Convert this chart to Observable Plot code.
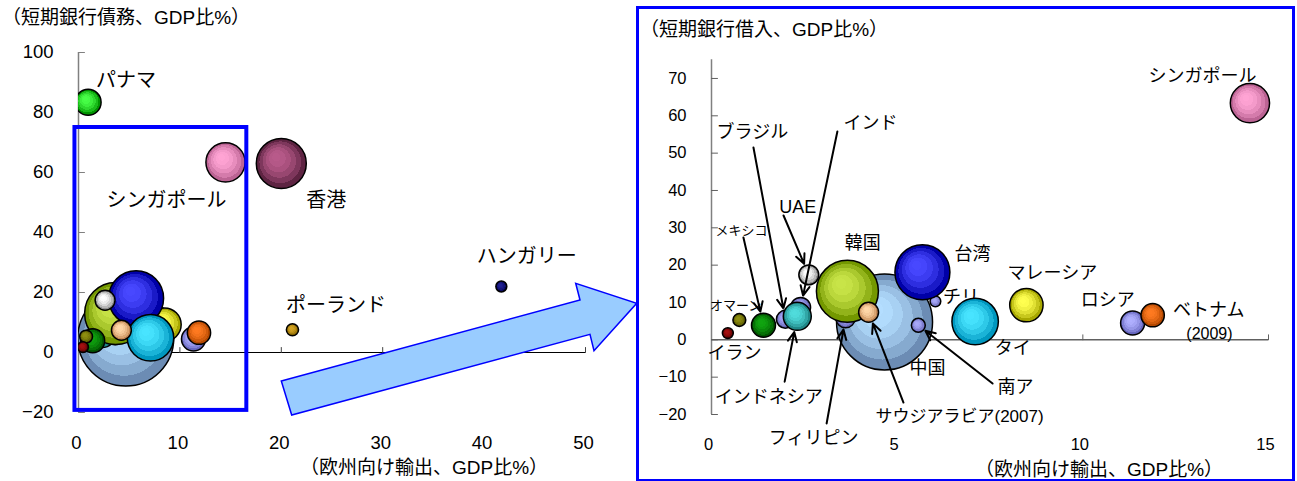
<!DOCTYPE html>
<html><head><meta charset="utf-8">
<script src="https://cdn.jsdelivr.net/npm/d3@7"></script>
<script src="https://cdn.jsdelivr.net/npm/@observablehq/plot@0.6"></script>
<style>
body{margin:0;background:#fff;width:1297px;height:481px;overflow:hidden;position:relative;font-family:'Liberation Sans','Noto Sans CJK JP',sans-serif;}
.abs{position:absolute;}
.t{position:absolute;font-size:19px;line-height:1;white-space:nowrap;color:#000;}
</style></head><body>
<svg width="0" height="0" style="position:absolute"><defs id="grads"></defs></svg>
<div id="left" class="abs" style="left:0;top:0"></div>
<div id="right" class="abs" style="left:636px;top:0"></div>
<div class="abs" style="left:636px;top:6px;width:659px;height:475px;box-sizing:border-box;border:3px solid #0000ff;border-bottom-width:2px"></div>
<div class="t" style="left:2px;top:8px">（短期銀行債務、GDP比%）</div>
<div class="t" style="left:640px;top:20px">（短期銀行借入、GDP比%）</div>
<div class="t" style="left:424px;top:458px;transform:translateX(-50%)">（欧州向け輸出、GDP比%）</div>
<div class="t" style="left:1099px;top:460px;transform:translateX(-50%)">（欧州向け輸出、GDP比%）</div>
<svg id="overlay" class="abs" style="left:0;top:0;pointer-events:none" width="1297" height="481"></svg>
<script>
// ---- data ----
const countries = ["中国","フィリピン","インド","ブラジル","インドネシア","マレーシア","韓国","チリ","台湾","UAE","南ア","タイ","サウジアラビア","ロシア","ベトナム","メキシコ","オマーン","イラン","シンガポール","香港","パナマ","ポーランド","ハンガリー"];
const exportsToEurope = [4.66,3.61,2.40,1.99,2.31,8.48,3.66,6.03,5.68,2.62,5.57,7.10,4.23,11.34,11.88,1.40,0.75,0.44,14.5,20.0,0.95,21.1,41.7];
const shortTermDebt   = [4.8,5.8,8.7,5.5,6.3,9.3,13.0,10.3,18.1,17.4,3.9,4.9,7.4,4.5,6.6,3.9,5.3,1.8,63.4,63.0,83.4,7.6,22.0];
const bubbleSize      = [100,4.0,4.3,3.5,8.5,12.1,41.7,1.25,32.8,4.3,2.1,23.4,4.3,6.25,5.9,6.25,1.8,1.3,16.7,27.1,7.3,1.6,1.3];

const leftXTicks = [0,10,20,30,40,50];
const leftYTicks = [-20,0,20,40,60,80,100];
const rightXTicks = [0,5,10,15];
const rightYTicks = [-20,-10,0,10,20,30,40,50,60,70];
const leftXDomain = [0,50], leftYDomain = [-20,100];
const rightXDomain = [0,15], rightYDomain = [-20,75];

// ---- styles (bubble gradient colours: centre / edge) ----
const centerColors = ["#b4deff","#a8a8f8","#a8a8f8","#a8a8f8","#50dcdc","#ffff50","#c8e448","#a8a8f8","#4848ff","#ffffff","#a8a8f8","#48e4ff","#ffd8a8","#b0b0ff","#ff7a20","#10a410","#8e8e10","#a41010","#ffa4d4","#b85a8a","#48ff48","#d4a422","#202094"];
const edgeColors   = ["#6c8cb4","#6868b8","#6868b8","#6868b8","#208888","#a8a800","#749800","#6868b8","#0000a8","#909090","#6868b8","#0098c0","#c48854","#6868c0","#b44800","#005400","#545400","#540000","#bc6494","#5e2442","#009400","#886600","#00004c"];

// ---- annotation layout ----
const leftLabelText = ["パナマ","シンガポール","香港","ポーランド","ハンガリー"];
const leftLabelX = [4.68,8.67,24.43,25.4,44.2];
const leftLabelY = [90.7,50.7,50.7,15.7,32.0];

const rightLabelText = ["シンガポール","ブラジル","インド","UAE","メキシコ","韓国","台湾","オマーン","イラン","インドネシア","フィリピン","中国","サウジアラビア(2007)","南ア","タイ","マレーシア","ロシア","ベトナム","(2009)"];
const rightLabelX = [13.22,1.10,4.28,2.32,0.81,4.07,7.03,0.65,0.62,1.54,2.75,5.82,6.68,8.19,8.11,9.18,10.67,13.39,13.41];
const rightLabelY = [70.7,55.5,57.9,35.4,29.3,26.0,22.8,9.2,-3.7,-15.5,-26.4,-7.7,-20.5,-12.7,-2.3,17.8,10.5,7.8,1.7];
const rightLabelSize = [18,18,18,18,13,18,18,13,18,18,18,18,17,18,18,18,18,18,16];

const arrowTarget = ["ブラジル","インド","UAE","メキシコ","インドネシア","フィリピン","サウジアラビア","南ア"];
const arrowTailX = [1.13,3.39,1.94,0.86,1.97,3.10,5.17,7.57];
const arrowTailY = [51.5,55.8,33.3,27.4,-11.2,-22.4,-16.8,-11.7];

const zoomBox = {x1:-0.35, x2:16.6, y1:-19.3, y2:75};
const arrowShape = [[281.3,381],[580,300],[575.7,283.3],[636.7,303.3],[594,350.7],[590,334.3],[291.7,415]];

// ---- build ----
const data = countries.map((name,i)=>({name, x:exportsToEurope[i], y:shortTermDebt[i], size:bubbleSize[i], id:"grad"+i}));
const byName = new Map(data.map(d=>[d.name,d]));

const defs = d3.select("#grads");
data.forEach((d,i)=>{
  const g = defs.append("radialGradient").attr("id", d.id)
    .attr("cx","50%").attr("cy","50%").attr("r","50%").attr("fx","38%").attr("fy","35%");
  const N = 6, interp = d3.interpolateRgb(centerColors[i], edgeColors[i]);
  for (let k=0;k<N;k++){
    const c = interp(Math.pow(k/(N-1), 2));
    g.append("stop").attr("offset", k/N).attr("stop-color", c);
    g.append("stop").attr("offset", (k+1)/N).attr("stop-color", c);
  }
});

const RMAX = 48;
const rScale = {type:"sqrt", domain:[0,100], range:[0,RMAX]};
const tickShape = {draw(ctx, l){ ctx.moveTo(0,0); ctx.lineTo(0,-l); }};
const font = "'Liberation Sans','Noto Sans CJK JP',sans-serif";

const leftLabels = leftLabelText.map((t,i)=>({t, x:leftLabelX[i], y:leftLabelY[i]}));
const left = Plot.plot({
  width:636, height:481,
  marginLeft:78, marginRight:51, marginTop:52, marginBottom:69,
  x:{domain:leftXDomain, label:null},
  y:{domain:leftYDomain, label:null},
  r:rScale,
  color:{type:"identity"},
  style:{fontFamily:font, fontSize:"18px", color:"black", background:"white", overflow:"visible"},
  marks:[
    Plot.axisX(leftXTicks, {tickSize:0, tickPadding:23, fontSize:18.5, label:null, dx:-2}),
    Plot.axisY(leftYTicks, {tickSize:0, tickPadding:25, fontSize:18.5, label:null}),
    Plot.ruleX([0], {y1:leftYDomain[0], y2:leftYDomain[1], stroke:"#808080", strokeWidth:1.5}),
    Plot.ruleY([0], {x1:leftXDomain[0], x2:leftXDomain[1], stroke:"black", strokeWidth:1}),
    Plot.vector(leftYTicks, {x:0, y:d=>d, length:6, rotate:90, anchor:"start", shape:tickShape, stroke:"#808080", strokeWidth:1}),
    Plot.vector(leftXTicks.filter(d=>d>0), {x:d=>d, y:0, length:5, rotate:0, anchor:"start", shape:tickShape, stroke:"#404040", strokeWidth:1}),
    Plot.dot(data, {x:"x", y:"y", r:"size", fill:d=>`url(#${d.id})`, stroke:"black", strokeWidth:1.5, sort:null, clip:true}),
    Plot.text(leftLabels, {x:"x", y:"y", text:"t", fontSize:20, fill:"black"}),
    Plot.rect([zoomBox], {x1:"x1", x2:"x2", y1:"y1", y2:"y2", fill:"none", stroke:"#0000ff", strokeWidth:4})
  ]
});
document.getElementById("left").append(left);

const rightData = data.filter(d=>d.x<=rightXDomain[1]+0.5 && d.y<=rightYDomain[1]);
const rightLabels = rightLabelText.map((t,i)=>({t, x:rightLabelX[i], y:rightLabelY[i], fs:rightLabelSize[i]}));
const arrows = arrowTarget.map((n,i)=>{
  const t = byName.get(n);
  return {x1:arrowTailX[i], y1:arrowTailY[i], x2:t.x, y2:t.y, inset: RMAX*Math.sqrt(t.size/100)+2};
});
const right = Plot.plot({
  width:661, height:481,
  marginLeft:75, marginRight:29, marginTop:59.3, marginBottom:67,
  x:{domain:rightXDomain, label:null},
  y:{domain:rightYDomain, label:null},
  r:rScale,
  color:{type:"identity"},
  style:{fontFamily:font, fontSize:"16px", color:"black", background:"transparent", overflow:"visible"},
  marks:[
    Plot.axisX(rightXTicks, {tickSize:0, tickPadding:24, fontSize:16.5, label:null, dx:-3}),
    Plot.axisY(rightYTicks, {tickSize:0, tickPadding:25, fontSize:16.5, label:null}),
    Plot.ruleX([0], {y1:rightYDomain[0], y2:rightYDomain[1], stroke:"#808080", strokeWidth:1.5}),
    Plot.ruleY([0], {x1:rightXDomain[0], x2:rightXDomain[1], stroke:"#606060", strokeWidth:1.5}),
    Plot.vector(rightYTicks, {x:0, y:d=>d, length:6, rotate:90, anchor:"start", shape:tickShape, stroke:"#606060", strokeWidth:1}),
    Plot.vector(rightXTicks.filter(d=>d>0), {x:d=>d, y:0, length:5, rotate:0, anchor:"start", shape:tickShape, stroke:"#606060", strokeWidth:1}),
    Plot.text([{t:"チリ", x:6.72, y:11.3}], {x:"x", y:"y", text:"t", fontSize:18, fill:"black"}),
    Plot.dot(rightData, {x:"x", y:"y", r:"size", fill:d=>`url(#${d.id})`, stroke:"black", strokeWidth:1.5, sort:null}),
    ...arrows.map(a=>Plot.arrow([a], {x1:"x1", y1:"y1", x2:"x2", y2:"y2", insetEnd:a.inset, stroke:"black", strokeWidth:2, headLength:8, headAngle:50})),
    Plot.text(rightLabels, {x:"x", y:"y", text:"t", fontSize:d=>d.fs, fill:"black"})
  ]
});
document.getElementById("right").append(right);

d3.select("#overlay").append("polygon")
  .attr("points", arrowShape.map(p=>p.join(",")).join(" "))
  .attr("fill","#99ccff").attr("stroke","#0000ff").attr("stroke-width",1.5).attr("stroke-linejoin","miter");
</script>
</body></html>
